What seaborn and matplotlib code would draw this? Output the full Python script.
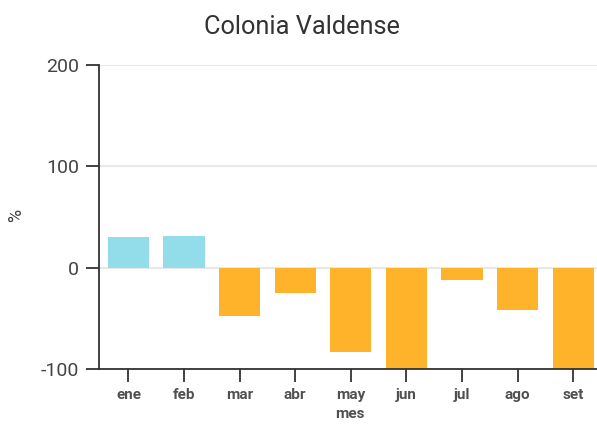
import matplotlib
matplotlib.use("Agg")
import matplotlib.pyplot as plt
import seaborn as sns
import pandas as pd

meses = ["ene", "feb", "mar", "abr", "may", "jun", "jul", "ago", "set"]
valores = [30, 31, -48, -25, -83, -100, -12, -42, -100]
color_pos = "#93DDEB"
color_neg = "#FEB32B"

df = pd.DataFrame({"mes": meses, "valor": valores})
df["signo"] = ["pos" if v >= 0 else "neg" for v in valores]

sns.set_theme(style="white")
plt.rcParams["font.family"] = ["Roboto", "DejaVu Sans"]
plt.rcParams["axes.unicode_minus"] = False

fig = plt.figure(figsize=(5.97, 4.26), dpi=100)
ax = fig.add_axes([99 / 597, 57 / 426, 1 - 99 / 597, (369 - 65) / 426])

sns.barplot(data=df, x="mes", y="valor", hue="signo",
            palette={"pos": color_pos, "neg": color_neg},
            dodge=False, width=0.74, legend=False, ax=ax, saturation=1,
            linewidth=0)

ax.set_ylim(-100, 200)
ax.set_xlim(-0.53, 8.43)
ax.set_yticks([-100, 0, 100, 200])
ax.yaxis.grid(True, color="#e8e8e8", linewidth=1.5)
ax.set_axisbelow(True)
for s in ["top", "right"]:
    ax.spines[s].set_visible(False)
for s in ["left", "bottom"]:
    ax.spines[s].set_color("#333333")
    ax.spines[s].set_linewidth(1.3)
ax.tick_params(axis="both", which="major", direction="out", length=9.5,
               width=1.3, color="#333333", bottom=True, left=True)
ax.tick_params(axis="y", labelsize=14, labelcolor="#444444", pad=5)
ax.tick_params(axis="x", labelsize=11, labelcolor="#505050", pad=4)
for lab in ax.get_xticklabels():
    lab.set_fontweight("bold")

ax.set_xlabel("mes", fontsize=11, fontweight="bold", color="#505050")
ax.xaxis.set_label_coords((350 - 99) / 498, -(407 - 369) / 304)
ax.set_ylabel("%", fontsize=13, color="#444444")
ax.yaxis.set_label_coords((25 - 99) / 498, (369 - 215) / 304)
fig.suptitle("Colonia Valdense", x=0.505, y=0.965, fontsize=18.3, color="#333333")

fig.savefig("out.png", dpi=100)
